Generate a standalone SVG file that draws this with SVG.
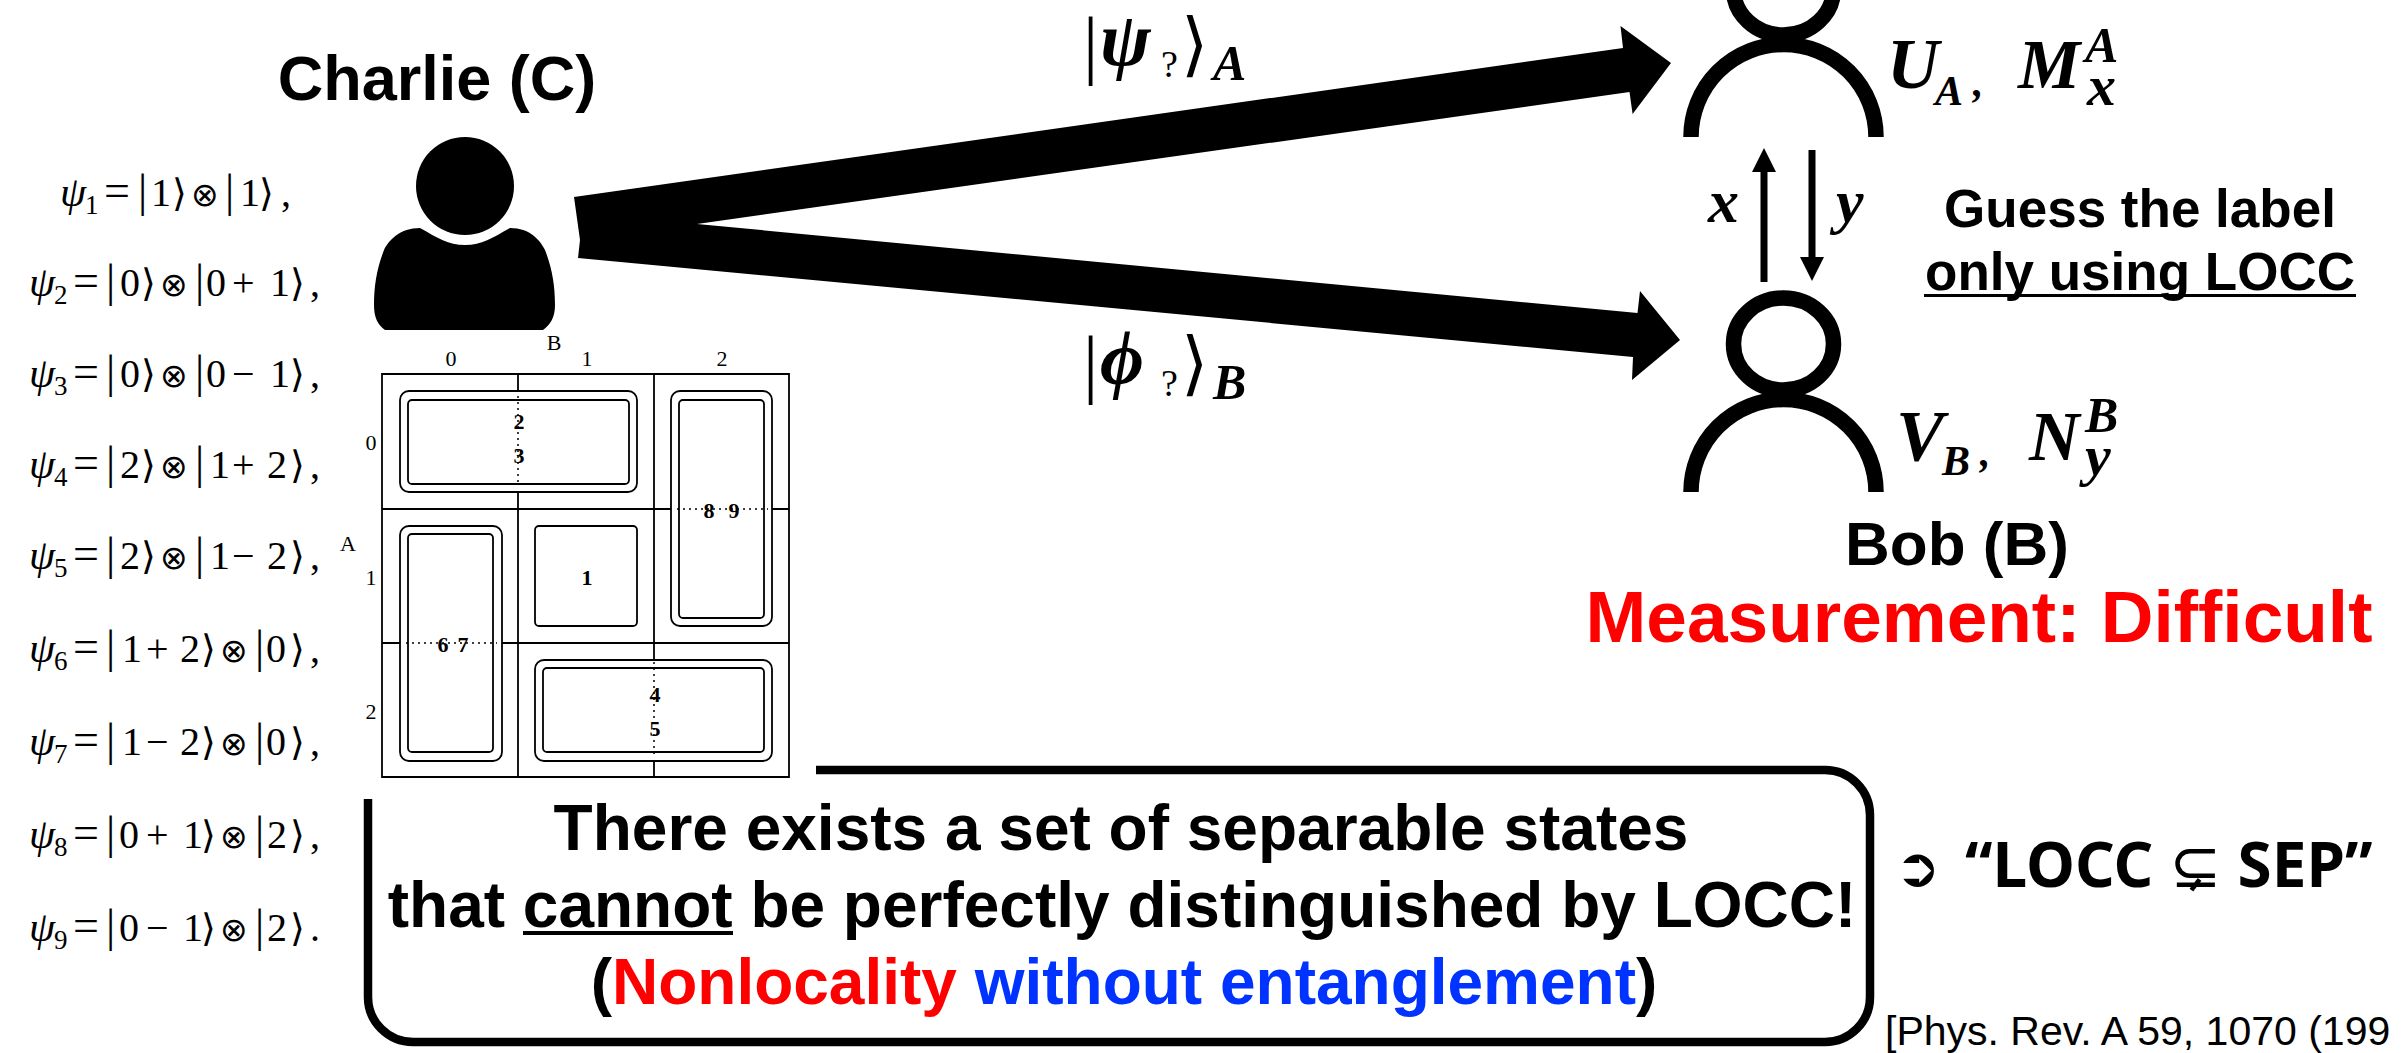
<svg xmlns="http://www.w3.org/2000/svg" width="2407" height="1053" viewBox="0 0 2407 1053">
<defs><style>
text{fill:#000}
.sans{font-family:"Liberation Sans",Arial,sans-serif;font-weight:700}
.mid{text-anchor:middle}
.eq{font-family:"Liberation Serif","Times New Roman",serif;font-size:40px}
.eq .g{font-style:italic;font-size:42px}
.eq .s{font-size:27px}
.eq .k{font-family:"DejaVu Sans",sans-serif;font-size:38px}
.eq .v{font-size:46px}
.eq .o{font-family:"DejaVu Sans",sans-serif;font-size:33px}
.m{font-family:"Liberation Serif","Times New Roman",serif;font-weight:700;font-style:italic}
.n{font-family:"Liberation Serif","Times New Roman",serif;font-weight:700;font-size:22px;text-anchor:middle}
.l{font-family:"Liberation Serif","Times New Roman",serif;font-size:22px;text-anchor:middle}
.grid{stroke:#000;stroke-width:1.8;fill:none}
.bx{stroke:#000;stroke-width:1.8;fill:#fff}
.dot{stroke:#000;stroke-width:1.5;stroke-dasharray:2 4;fill:none}
.person{fill:none;stroke:#000;stroke-width:15.5}
</style></defs>
<rect width="2407" height="1053" fill="#fff"/>

<g id="connectors">
<path d="M574,197L1623,48L1620.5,26L1671,63L1632.6,114L1629.5,92L697,224L1637.5,313L1640,291L1680,340L1632,380L1633,357L578,258L580,240Z" fill="#000"/>
<path d="M1760.5,282V172H1752L1764,148L1776,172H1767.500V282Z" fill="#000"/>
<path d="M1808.500,150V257H1800L1812,281L1824,257H1815.500V150Z" fill="#000"/>
</g>

<g id="equations">
<text class="eq" y="206"><tspan class="g" x="60">ψ</tspan><tspan class="s" x="85" dy="8">1</tspan><tspan x="104" dy="-8" class="v">=</tspan><tspan class="v" x="138">|</tspan><tspan x="151">1</tspan><tspan class="k" x="172">⟩</tspan><tspan class="o" x="191">⊗</tspan><tspan class="v" x="225">|</tspan><tspan x="240">1</tspan><tspan class="k" x="259">⟩</tspan><tspan x="281">,</tspan></text>
<text class="eq" y="296"><tspan class="g" x="29">ψ</tspan><tspan class="s" x="54" dy="8">2</tspan><tspan x="73" dy="-8" class="v">=</tspan><tspan class="v" x="106">|</tspan><tspan x="120">0</tspan><tspan class="k" x="141">⟩</tspan><tspan class="o" x="160">⊗</tspan><tspan class="v" x="195">|</tspan><tspan x="206">0</tspan><tspan x="232">+</tspan><tspan x="270">1</tspan><tspan class="k" x="290">⟩</tspan><tspan x="310">,</tspan></text>
<text class="eq" y="387"><tspan class="g" x="29">ψ</tspan><tspan class="s" x="54" dy="8">3</tspan><tspan x="73" dy="-8" class="v">=</tspan><tspan class="v" x="106">|</tspan><tspan x="120">0</tspan><tspan class="k" x="141">⟩</tspan><tspan class="o" x="160">⊗</tspan><tspan class="v" x="195">|</tspan><tspan x="206">0</tspan><tspan x="232">−</tspan><tspan x="270">1</tspan><tspan class="k" x="290">⟩</tspan><tspan x="310">,</tspan></text>
<text class="eq" y="478"><tspan class="g" x="29">ψ</tspan><tspan class="s" x="54" dy="8">4</tspan><tspan x="73" dy="-8" class="v">=</tspan><tspan class="v" x="106">|</tspan><tspan x="120">2</tspan><tspan class="k" x="141">⟩</tspan><tspan class="o" x="160">⊗</tspan><tspan class="v" x="195">|</tspan><tspan x="210">1</tspan><tspan x="232">+</tspan><tspan x="267">2</tspan><tspan class="k" x="290">⟩</tspan><tspan x="310">,</tspan></text>
<text class="eq" y="569"><tspan class="g" x="29">ψ</tspan><tspan class="s" x="54" dy="8">5</tspan><tspan x="73" dy="-8" class="v">=</tspan><tspan class="v" x="106">|</tspan><tspan x="120">2</tspan><tspan class="k" x="141">⟩</tspan><tspan class="o" x="160">⊗</tspan><tspan class="v" x="195">|</tspan><tspan x="210">1</tspan><tspan x="232">−</tspan><tspan x="267">2</tspan><tspan class="k" x="290">⟩</tspan><tspan x="310">,</tspan></text>
<text class="eq" y="662"><tspan class="g" x="29">ψ</tspan><tspan class="s" x="54" dy="8">6</tspan><tspan x="73" dy="-8" class="v">=</tspan><tspan class="v" x="106">|</tspan><tspan x="122">1</tspan><tspan x="146">+</tspan><tspan x="180">2</tspan><tspan class="k" x="201">⟩</tspan><tspan class="o" x="220">⊗</tspan><tspan class="v" x="255">|</tspan><tspan x="266">0</tspan><tspan class="k" x="290">⟩</tspan><tspan x="310">,</tspan></text>
<text class="eq" y="755"><tspan class="g" x="29">ψ</tspan><tspan class="s" x="54" dy="8">7</tspan><tspan x="73" dy="-8" class="v">=</tspan><tspan class="v" x="106">|</tspan><tspan x="122">1</tspan><tspan x="146">−</tspan><tspan x="180">2</tspan><tspan class="k" x="201">⟩</tspan><tspan class="o" x="220">⊗</tspan><tspan class="v" x="255">|</tspan><tspan x="266">0</tspan><tspan class="k" x="290">⟩</tspan><tspan x="310">,</tspan></text>
<text class="eq" y="848"><tspan class="g" x="29">ψ</tspan><tspan class="s" x="54" dy="8">8</tspan><tspan x="73" dy="-8" class="v">=</tspan><tspan class="v" x="106">|</tspan><tspan x="119">0</tspan><tspan x="146">+</tspan><tspan x="183">1</tspan><tspan class="k" x="201">⟩</tspan><tspan class="o" x="220">⊗</tspan><tspan class="v" x="255">|</tspan><tspan x="267">2</tspan><tspan class="k" x="290">⟩</tspan><tspan x="310">,</tspan></text>
<text class="eq" y="941"><tspan class="g" x="29">ψ</tspan><tspan class="s" x="54" dy="8">9</tspan><tspan x="73" dy="-8" class="v">=</tspan><tspan class="v" x="106">|</tspan><tspan x="119">0</tspan><tspan x="146">−</tspan><tspan x="183">1</tspan><tspan class="k" x="201">⟩</tspan><tspan class="o" x="220">⊗</tspan><tspan class="v" x="255">|</tspan><tspan x="267">2</tspan><tspan class="k" x="290">⟩</tspan><tspan x="310">.</tspan></text>
</g>

<g id="charlie">
<text class="sans mid" x="437" y="100" font-size="63">Charlie (C)</text>
<rect x="360" y="113" width="210" height="217" fill="#fff"/>
<circle cx="465" cy="186" r="49" fill="#000"/>
<path d="M420,228C438,238 448,245 465,245C482,245 492,238 510,228C530,228 540,240 545,250C552,268 555,285 555,305C555,318 550,325 543,330H385C378,325 374,318 374,305C374,285 377,268 384,250C389,240 400,228 420,228Z" fill="#000"/>
</g>

<g id="table">
<path class="grid" d="M382,374H789V777H382ZM518,374V777M654,374V777M382,509H789M382,643H789"/>
<rect class="bx" x="400" y="391" width="237" height="101" rx="9"/><rect class="bx" x="408" y="400" width="221" height="84" rx="4"/>
<rect class="bx" x="671" y="391" width="101" height="235" rx="9"/><rect class="bx" x="679" y="400" width="85" height="218" rx="4"/>
<rect class="bx" x="400" y="526" width="102" height="235" rx="9"/><rect class="bx" x="408" y="534" width="85" height="218" rx="4"/>
<rect class="bx" x="535" y="526" width="102" height="100" rx="4"/>
<rect class="bx" x="535" y="660" width="237" height="101" rx="9"/><rect class="bx" x="543" y="668" width="221" height="84" rx="4"/>
<path class="dot" d="M518,396V485M677,509H768M406,643H497M654,662V755"/>
<text class="l" x="554" y="350">B</text><text class="l" x="451" y="366">0</text><text class="l" x="587" y="366">1</text><text class="l" x="722" y="366">2</text>
<text class="l" x="348" y="551">A</text><text class="l" x="371" y="450">0</text><text class="l" x="371" y="585">1</text><text class="l" x="371" y="719">2</text>
<text class="n" x="519" y="429">2</text><text class="n" x="519" y="463">3</text><text class="n" x="709" y="518">8</text><text class="n" x="734" y="518">9</text><text class="n" x="443" y="652">6</text><text class="n" x="463" y="652">7</text><text class="n" x="587" y="585">1</text><text class="n" x="655" y="702">4</text><text class="n" x="655" y="736">5</text>
</g>

<g id="alice">
<ellipse class="person" cx="1783.500" cy="-11" rx="50" ry="46"/>
<path class="person" d="M1691,137A92.500,92.500 0 0 1 1876,137"/>
<text class="m" font-size="72" x="1887" y="88">U</text><text class="m" font-size="42" x="1935" y="105">A</text><text class="m" font-size="42" x="1973" y="96">,</text>
<text class="m" font-size="70" x="2018" y="88">M</text><text class="m" font-size="50" x="2085" y="62">A</text><text class="m" font-size="58" x="2087" y="105">x</text>
</g>

<g id="bob">
<ellipse class="person" cx="1783.500" cy="344" rx="50" ry="46"/>
<path class="person" d="M1691,492A92.500,92.500 0 0 1 1876,492"/>
<text class="m" font-size="72" x="1896" y="460">V</text><text class="m" font-size="42" x="1942" y="475">B</text><text class="m" font-size="42" x="1980" y="466">,</text>
<text class="m" font-size="70" x="2029" y="460">N</text><text class="m" font-size="50" x="2085" y="432">B</text><text class="m" font-size="58" x="2085" y="475">y</text>
<text class="sans mid" x="1957" y="565" font-size="62">Bob (B)</text>
<text class="sans mid" x="1979" y="642" font-size="73" style="fill:#f00">Measurement: Difficult</text>
</g>

<g id="labels">
<text x="1083" y="70" font-size="76" font-family="Liberation Serif,serif">|</text>
<text class="m" x="1100" y="65" font-size="76">ψ</text>
<text x="1161" y="77" font-size="38" font-family="Liberation Serif,serif">?</text>
<text x="1181" y="68" font-size="70" font-family="DejaVu Sans,sans-serif">⟩</text>
<text class="m" x="1213" y="80" font-size="50">A</text>
<text x="1083" y="389" font-size="76" font-family="Liberation Serif,serif">|</text>
<text class="m" x="1100" y="384" font-size="76">ϕ</text>
<text x="1161" y="396" font-size="38" font-family="Liberation Serif,serif">?</text>
<text x="1181" y="387" font-size="70" font-family="DejaVu Sans,sans-serif">⟩</text>
<text class="m" x="1213" y="399" font-size="50">B</text>
<text class="m" x="1708" y="222" font-size="62">x</text>
<text class="m" x="1836" y="222" font-size="62">y</text>
<text class="sans mid" x="2140" y="227" font-size="53">Guess the label</text>
<text class="sans mid" x="2140" y="290" font-size="53">only using LOCC</text>
<rect x="1924" y="294" width="432" height="3"/>
</g>

<g id="note">
<path d="M816,770H1825A45,45 0 0 1 1870,815V997A45,45 0 0 1 1825,1042H413A45,45 0 0 1 368,997V799" fill="none" stroke="#000" stroke-width="8.500"/>
<text class="sans mid" x="1121" y="850" font-size="64">There exists a set of separable states</text>
<text class="sans mid" x="1122" y="927" font-size="64">that cannot be perfectly distinguished by LOCC!</text>
<rect x="523" y="931" width="210" height="4"/>
<text class="sans mid" x="1124" y="1004" font-size="64">(<tspan style="fill:#f00">Nonlocality</tspan> <tspan style="fill:#03f">without entanglement</tspan>)</text>
</g>

<g id="conclusion">
<text x="1895" y="886" font-size="54" font-family="DejaVu Sans,sans-serif">➲</text>
<text x="1965" y="887" font-size="62" font-family="Noto Sans,sans-serif" font-weight="700">“LOCC <tspan font-family="DejaVu Sans,sans-serif" font-weight="400">⊊</tspan> SEP”</text>
<text x="1885" y="1045" font-size="41" font-family="Liberation Sans,sans-serif">[Phys. Rev. A 59, 1070 (199</text>
</g>
</svg>
